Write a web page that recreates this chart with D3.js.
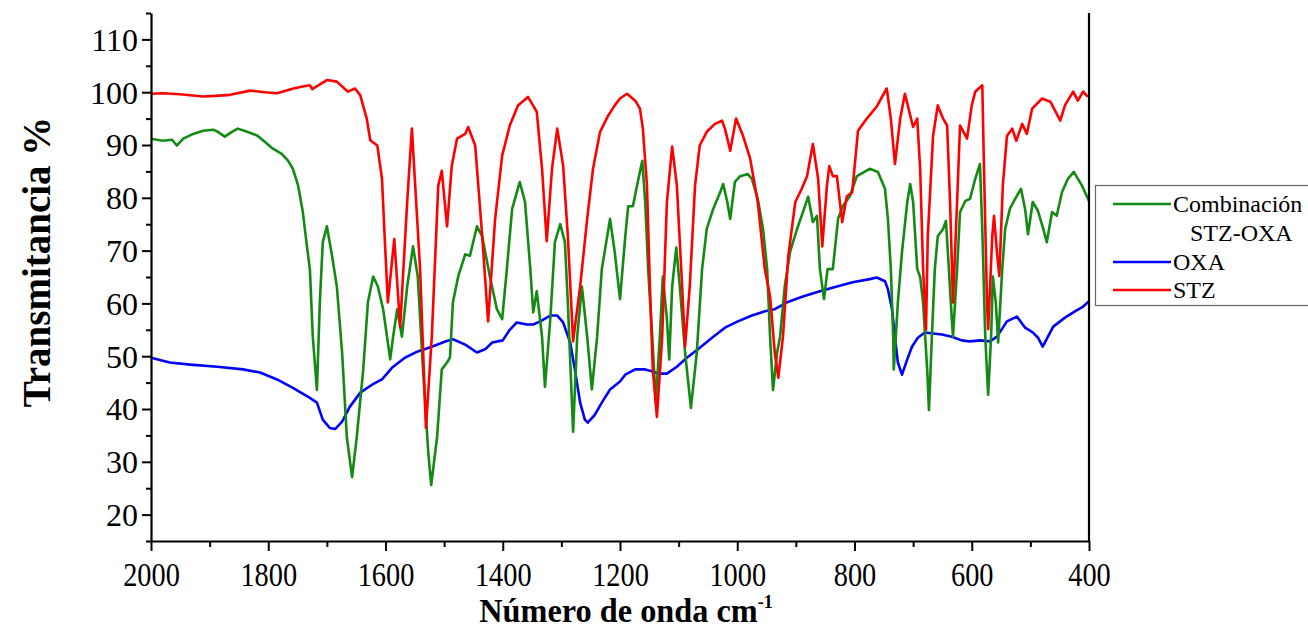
<!DOCTYPE html>
<html>
<head>
<meta charset="utf-8">
<script src="https://cdn.jsdelivr.net/npm/d3@7"></script>
<style>
  html, body { margin: 0; padding: 0; background: #fff; }
  svg { display: block; }
  text { font-family: "Liberation Serif", "Times New Roman", serif; }
</style>
</head>
<body>
<svg id="chart" width="1308" height="630"></svg>
<script>
// ---- data (wavenumber cm-1, transmittance %) ----
const seriesNames = ["Combinación STZ-OXA", "OXA", "STZ"];
const xTickValues = [2000, 1800, 1600, 1400, 1200, 1000, 800, 600, 400];
const yTickValues = [20, 30, 40, 50, 60, 70, 80, 90, 100, 110];

const stzOxa = [
[2000,91.2],[1980,90.8],[1964,91.0],[1956,89.9],[1945,91.2],[1928,92.1],[1911,92.7],[1894,92.9],[1886,92.5],[1874,91.6],
[1862,92.5],[1852,93.1],[1836,92.5],[1819,91.8],[1806,90.6],[1792,89.3],[1777,88.3],[1766,87.0],[1758,85.5],[1749,82.3],
[1741,77.3],[1734,70.8],[1729,66.5],[1724,53.7],[1717,43.6],[1712,60.2],[1707,71.6],[1700,74.6],[1691,68.9],[1683,63.2],
[1674,50.7],[1666,34.7],[1657,27.1],[1649,34.7],[1638,47.5],[1630,60.2],[1621,65.1],[1613,63.2],[1604,58.9],[1592,49.4],
[1587,53.7],[1580,58.9],[1572,53.7],[1563,63.2],[1553,70.8],[1545,65.1],[1536,47.5],[1527,31.7],[1522,25.6],[1512,34.7],
[1504,47.5],[1495,48.8],[1490,49.8],[1485,60.2],[1476,65.1],[1464,69.3],[1456,69.0],[1444,74.6],[1435,72.7],[1422,65.1],
[1410,58.9],[1401,57.0],[1393,66.5],[1384,77.9],[1371,83.0],[1362,79.2],[1353,66.5],[1348,58.3],[1342,62.3],[1333,53.7],
[1328,44.2],[1319,56.9],[1311,71.6],[1302,75.0],[1294,71.6],[1289,60.2],[1282,41.2],[1280,35.7],[1273,53.7],[1265,63.2],
[1256,53.7],[1248,43.7],[1239,53.7],[1231,66.5],[1217,76.0],[1209,69.7],[1200,60.8],[1191,72.7],[1186,78.4],[1178,78.4],
[1171,82.3],[1162,87.0],[1157,79.2],[1152,66.5],[1145,53.7],[1139,41.2],[1132,53.7],[1127,65.1],[1120,57.0],[1116,49.4],
[1111,63.2],[1104,70.6],[1098,63.2],[1089,50.7],[1079,40.2],[1069,50.7],[1060,66.5],[1052,74.1],[1041,77.9],[1029,81.1],
[1024,82.6],[1017,79.2],[1012,76.0],[1004,83.0],[995,84.1],[982,84.5],[975,83.6],[965,79.8],[956,74.1],[949,66.5],
[944,53.7],[939,43.6],[932,50.7],[927,53.7],[919,63.2],[910,69.7],[898,74.1],[888,77.3],[879,80.2],[871,75.4],
[864,76.6],[859,66.5],[852,60.8],[846,66.5],[837,66.5],[828,76.0],[820,78.4],[808,80.3],[796,84.1],[774,85.5],
[760,84.9],[748,81.7],[743,76.0],[738,66.5],[734,53.7],[733,47.5],[726,60.2],[719,69.7],[710,79.2],[705,82.6],
[700,79.2],[693,66.5],[688,65.0],[683,60.2],[676,47.5],[673,39.8],[668,53.7],[663,66.5],[658,72.7],[649,74.1],
[644,75.6],[639,66.5],[634,57.0],[632,53.7],[625,66.5],[620,77.3],[611,79.4],[603,79.8],[594,83.6],[586,86.4],
[582,74.0],[577,53.7],[572,42.7],[567,53.7],[564,65.1],[559,60.2],[555,52.6],[548,66.5],[543,74.1],[535,77.9],
[526,79.8],[516,81.7],[509,77.9],[504,73.1],[496,79.2],[487,77.5],[478,74.1],[472,71.6],[463,77.3],[455,76.6],
[446,81.1],[436,83.6],[426,84.9],[412,82.3],[400,79.4]
];

const oxa = [
[2000,49.7],[1968,48.8],[1933,48.4],[1887,48.0],[1843,47.5],[1814,46.9],[1785,45.6],[1758,44.0],[1729,42.1],[1717,41.2],
[1707,38.0],[1695,36.4],[1686,36.2],[1674,37.6],[1661,40.4],[1643,43.1],[1623,44.6],[1606,45.6],[1589,47.8],[1567,49.7],
[1545,50.9],[1521,51.8],[1498,52.8],[1485,53.2],[1464,52.2],[1444,50.7],[1430,51.3],[1418,52.6],[1400,53.0],[1388,55.0],
[1376,56.4],[1359,56.0],[1348,56.0],[1336,56.6],[1319,57.7],[1307,57.7],[1297,56.4],[1285,52.6],[1277,47.5],[1268,41.2],
[1260,38.0],[1255,37.4],[1243,38.9],[1231,41.2],[1217,43.7],[1200,45.2],[1191,46.5],[1174,47.5],[1157,47.5],[1144,47.1],
[1135,46.7],[1120,46.7],[1103,48.0],[1086,49.7],[1067,51.3],[1043,53.5],[1021,55.4],[999,56.6],[975,57.7],[953,58.5],
[936,58.9],[915,60.2],[888,61.3],[859,62.3],[830,63.2],[803,64.0],[774,64.6],[762,64.9],[748,64.2],[743,62.7],
[736,58.9],[731,53.7],[726,48.8],[719,46.5],[710,49.4],[702,51.8],[692,53.5],[680,54.5],[651,54.1],[634,53.7],
[617,53.0],[603,52.8],[586,53.0],[569,52.8],[557,53.7],[540,56.6],[523,57.5],[509,55.4],[496,54.5],[487,53.5],
[479,51.8],[470,53.7],[461,55.6],[441,57.3],[424,58.5],[410,59.4],[400,60.4]
];

const stz = [
[2000,99.7],[1980,99.8],[1951,99.6],[1911,99.2],[1891,99.3],[1865,99.5],[1831,100.3],[1806,100.0],[1785,99.8],[1763,100.5],
[1746,101.0],[1729,101.3],[1725,100.6],[1700,102.3],[1683,102.0],[1664,100.1],[1652,100.7],[1643,99.4],[1632,95.0],[1626,90.9],
[1614,89.9],[1606,83.6],[1601,71.6],[1596,60.2],[1585,72.2],[1575,55.6],[1563,79.2],[1555,93.1],[1541,66.5],[1531,36.4],
[1521,53.7],[1510,82.3],[1504,85.1],[1495,74.6],[1487,86.0],[1478,91.2],[1464,92.1],[1459,93.4],[1447,89.9],[1435,72.7],
[1425,56.6],[1413,76.0],[1401,88.0],[1388,93.7],[1374,97.5],[1357,99.1],[1342,96.3],[1333,85.5],[1325,71.8],[1316,85.5],
[1307,93.1],[1297,86.1],[1289,72.8],[1280,52.8],[1268,63.2],[1256,76.0],[1246,85.5],[1234,92.5],[1220,95.6],[1209,97.5],
[1200,98.8],[1188,99.7],[1174,98.4],[1166,96.9],[1161,93.1],[1154,82.3],[1149,63.2],[1144,47.4],[1137,38.5],[1128,53.7],
[1120,79.2],[1111,89.7],[1103,82.3],[1094,63.2],[1089,51.8],[1081,63.2],[1072,82.3],[1064,89.9],[1052,92.5],[1038,94.0],
[1026,94.6],[1021,93.1],[1012,88.9],[1002,95.0],[990,91.7],[978,87.4],[965,79.2],[953,66.5],[944,61.3],[936,50.7],
[930,45.9],[922,53.7],[913,68.9],[901,79.2],[890,81.7],[881,84.1],[871,90.2],[862,83.6],[855,70.8],[847,82.3],
[843,86.0],[837,84.1],[830,84.1],[821,75.4],[813,80.3],[804,81.0],[794,92.7],[779,95.0],[762,97.3],[745,100.7],
[738,95.0],[731,86.4],[722,95.0],[714,99.7],[705,95.6],[700,93.4],[693,95.0],[688,85.5],[683,66.5],[678,55.0],
[675,72.7],[666,91.7],[658,97.5],[649,95.0],[642,93.7],[637,79.2],[632,60.2],[625,79.2],[620,93.7],[608,91.2],
[600,97.5],[594,100.1],[582,101.3],[579,85.0],[574,60.2],[572,55.1],[565,72.7],[562,76.6],[557,69.7],[553,65.2],
[547,82.3],[540,91.7],[531,93.1],[524,90.8],[514,94.0],[506,92.1],[497,96.9],[480,98.8],[466,98.2],[449,94.6],
[441,97.5],[427,100.1],[419,98.4],[410,100.1],[402,99.1]
];

const seriesData = [stzOxa, oxa, stz];
const seriesColors = ["#138a13", "#0000ff", "#ff0000"];

// ---- layout ----
const svg = d3.select("#chart");
const L = 151, R = 1089, T = 13, B = 541;
const x = d3.scaleLinear().domain([2000, 400]).range([L, R]);
const y = d3.scaleLinear().domain([15, 115]).range([B, T]);

const line = d3.line().x(d => x(d[0])).y(d => y(d[1]));

// curves
[1, 0, 2].forEach(i => {
  svg.append("path")
    .datum(seriesData[i])
    .attr("fill", "none")
    .attr("stroke", seriesColors[i])
    .attr("stroke-width", 2.6)
    .attr("stroke-linejoin", "round")
    .attr("d", line);
});

// axes
const xAxis = d3.axisBottom(x).tickValues(xTickValues).tickSize(10).tickSizeOuter(0).tickFormat(d3.format("d"));
const xMinor = d3.axisBottom(x).tickValues(d3.range(1900, 400, -200)).tickSize(6).tickFormat("");
const yAxis = d3.axisLeft(y).tickValues(yTickValues).tickSize(9).tickSizeOuter(0);
const yMinor = d3.axisLeft(y).tickValues(d3.range(15, 120, 10)).tickSize(5).tickFormat("");

function styleAxis(g) {
  g.select(".domain").attr("stroke", "#000").attr("stroke-width", 2.2);
  g.selectAll(".tick line").attr("stroke", "#000").attr("stroke-width", 2);
}

const gx = svg.append("g").attr("transform", `translate(0,${B})`).call(xAxis).call(styleAxis);
gx.selectAll(".tick text")
  .attr("font-size", 33)
  .attr("fill", "#000")
  .attr("dy", 0)
  .attr("y", 45)
  .attr("x", 0)
  .attr("transform", "scale(0.86,1)");
svg.append("g").attr("transform", `translate(0,${B})`).call(xMinor).call(styleAxis).select(".domain").remove();

const gy = svg.append("g").attr("transform", `translate(${L},0)`).call(yAxis).call(styleAxis);
gy.selectAll(".tick text")
  .attr("font-size", 32)
  .attr("fill", "#000")
  .attr("x", -13)
  .attr("dy", "0.34em");
svg.append("g").attr("transform", `translate(${L},0)`).call(yMinor).call(styleAxis).select(".domain").remove();

// right border line
svg.append("line").attr("x1", R).attr("x2", R).attr("y1", T).attr("y2", B)
  .attr("stroke", "#000").attr("stroke-width", 2.2);

// axis titles
svg.append("text")
  .attr("transform", `translate(50,262) rotate(-90)`)
  .attr("text-anchor", "middle")
  .attr("font-size", 39)
  .attr("font-weight", "bold")
  .text("Transmitancia %");

const xt = svg.append("text")
  .attr("transform", `translate(626,622) scale(0.95,1)`)
  .attr("text-anchor", "middle")
  .attr("font-size", 34)
  .attr("font-weight", "bold");
xt.append("tspan").text("Número de onda cm");
xt.append("tspan").attr("font-size", 19).attr("dy", -14).text("-1");

// legend
const lg = svg.append("g");
lg.append("rect").attr("x", 1095.5).attr("y", 185.5).attr("width", 230).attr("height", 120)
  .attr("fill", "#fff").attr("stroke", "#666").attr("stroke-width", 1.2);
const legendRows = [
  {i: 0, y: 204, label: ["Combinación", "STZ-OXA"]},
  {i: 1, y: 262, label: ["OXA"]},
  {i: 2, y: 290, label: ["STZ"]}
];
legendRows.forEach(r => {
  lg.append("line").attr("x1", 1113).attr("x2", 1171).attr("y1", r.y).attr("y2", r.y)
    .attr("stroke", seriesColors[r.i]).attr("stroke-width", 2.6);
  lg.append("text").attr("x", 1173).attr("y", r.y + 8).attr("font-size", 24).text(r.label[0]);
  if (r.label[1]) {
    lg.append("text").attr("x", 1190).attr("y", r.y + 37).attr("font-size", 24).text(r.label[1]);
  }
});
</script>
</body>
</html>
